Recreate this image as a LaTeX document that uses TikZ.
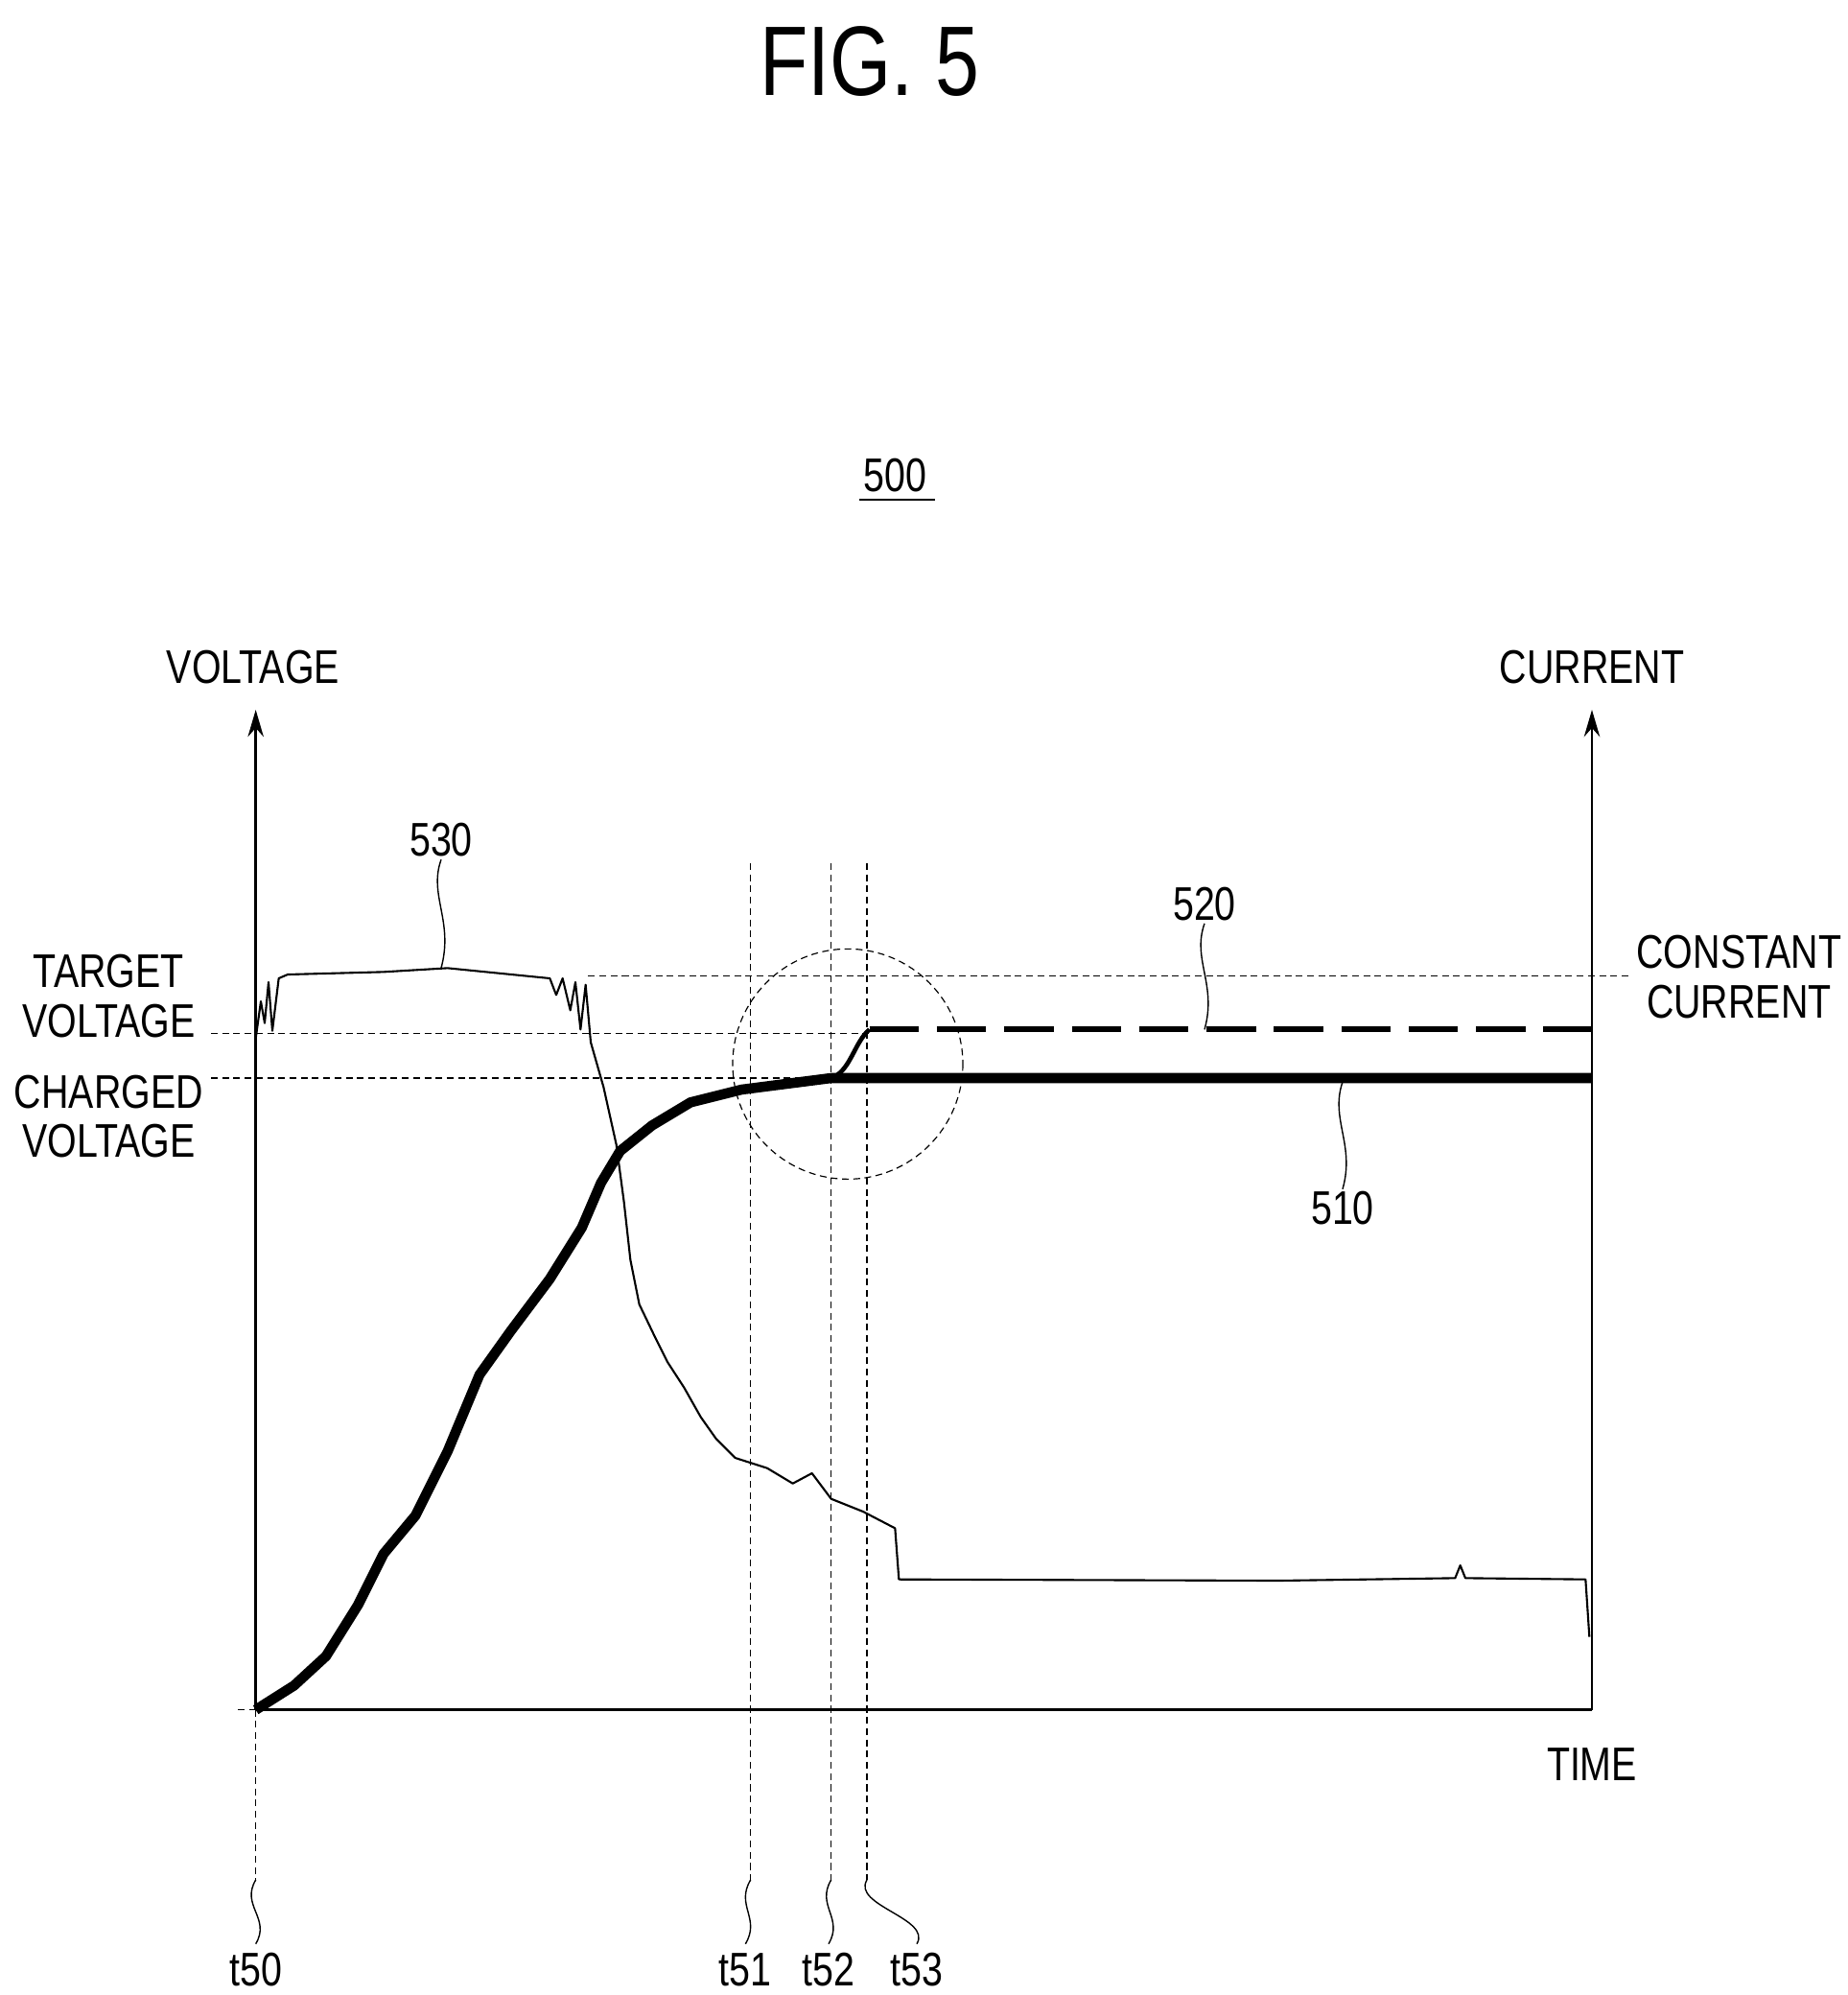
\documentclass[tikz,border=0pt]{standalone}
\usepackage{fontspec}
\setmainfont[FakeStretch=0.8]{Liberation Sans}
\usetikzlibrary{positioning, arrows.meta}
\tikzset{
  lbl/.style={font=\fontsize{21}{26}\selectfont, inner sep=1pt, align=center},
  axis/.style={line width=1.2pt, -{Stealth[length=12pt,width=7pt]}},
  guide/.style={dashed, line width=0.5pt, dash pattern=on 3pt off 2pt},
  leader/.style={line width=0.6pt}
}
\begin{document}
\begin{tikzpicture}[x=0.02cm, y=-0.02cm]
\useasboundingbox (0,0) rectangle (1445,1560);
% title and figure number
\node[font=\fontsize{44}{50}\selectfont] (fig) at (680,48) {FIG. 5};
\node[lbl] (num) at (700,372) {500};
\draw[line width=0.8pt] (672,391) -- (731,391);
% axes
\coordinate (o) at (200,1337);
\coordinate (r) at (1245,1337);
\draw[axis] (o) -- (200,555);
\draw[axis] (r) -- (1245,555);
\draw[line width=1.2pt] (o) -- (r);
\draw[guide] (186,1337) -- (o);
\node[lbl] (volt) at (198,522) {VOLTAGE};
\node[lbl] (curr) at (1245,522) {CURRENT};
\node[lbl] (time) at (1245,1380) {TIME};
\node[lbl] (tv) at (85,779) {TARGET\\[-4pt]VOLTAGE};
\node[lbl] (cv) at (85,873) {CHARGED\\[-4pt]VOLTAGE};
\node[lbl] (cc) at (1360,764) {CONSTANT\\[-4pt]CURRENT};
% level guides
\draw[guide] (165,808) -- (680,808);
\draw[guide] (165,843) -- (650,843);
\draw[guide] (460,763) -- (1275,763);
% time guides
\foreach \x/\n/\lx in {200/t50/200, 587/t51/583, 650/t52/648, 678/t53/717} {
  \draw[guide] (\x,{\x==200 ? 1337 : 675}) -- (\x,1470);
  \node[lbl] (\n) at (\lx,1540) {\n};
  \draw[leader] (\x,1470) .. controls (\x-12,1490) and (\lx+12,1500) .. (\lx,1520);
}
\draw[guide] (663,832) circle (90);
% curve 510
\draw[line width=4.5pt, line join=round] (o) -- (230,1318) -- (255,1295) -- (280,1255) -- (300,1215)
  -- (325,1185) -- (350,1135) -- (375,1075) -- (400,1040) -- (430,1000) -- (455,960)
  -- (470,925) -- (485,900) -- (510,880) -- (540,862) -- (580,852) -- (650,843) -- (1245,843);
% curve 520
\draw[line width=2pt] (650,843) .. controls (665,838) and (668,815) .. (680,805);
\draw[line width=2.5pt, dash pattern=on 22pt off 8pt] (680,805) -- (1245,805);
% curve 530
\draw[line width=0.9pt, line join=round] (200,812) -- (204,783) -- (207,800) -- (210,768) -- (213,806) -- (218,765)
  -- (225,762) -- (300,760) -- (350,757) -- (400,762) -- (430,765) -- (435,778) -- (440,765)
  -- (446,790) -- (450,768) -- (454,805) -- (458,770) -- (462,815) -- (472,850) -- (482,895)
  -- (488,940) -- (493,985) -- (500,1020) -- (512,1045) -- (522,1065) -- (535,1085)
  -- (548,1108) -- (560,1125) -- (575,1140) -- (600,1148) -- (620,1160) -- (635,1152)
  -- (650,1172) -- (675,1182) -- (700,1195) -- (703,1235) -- (1000,1236) -- (1138,1234)
  -- (1142,1224) -- (1146,1234) -- (1240,1235) -- (1243,1280);
% reference numerals
\node[lbl] (n530) at (345,657) {530};
\draw[leader] (n530.south) .. controls (335,700) and (355,720) .. (345,757);
\node[lbl] (n520) at (942,707) {520};
\draw[leader] (n520.south) .. controls (932,750) and (952,770) .. (942,805);
\node[lbl] (n510) at (1050,945) {510};
\draw[leader] (n510.north) .. controls (1060,895) and (1040,875) .. (1050,846);
\end{tikzpicture}
\end{document}
